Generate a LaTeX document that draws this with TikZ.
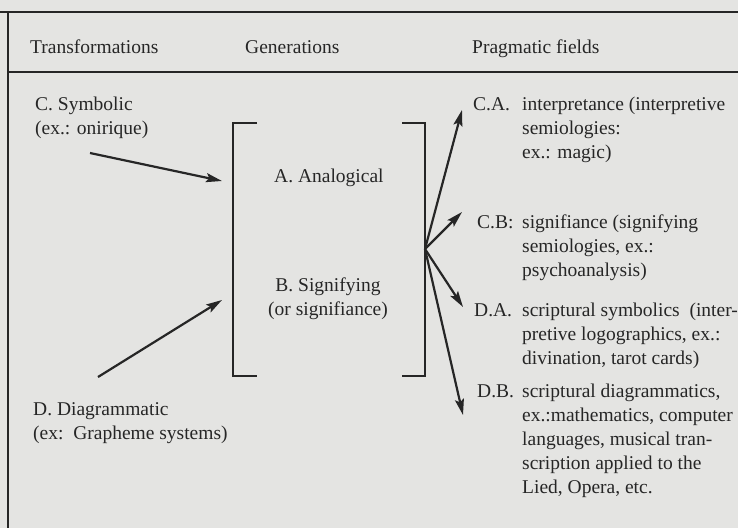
\documentclass[tikz,border=0pt]{standalone}
\usepackage{fontspec}
\setmainfont{Liberation Serif}
\usetikzlibrary{arrows.meta}
\definecolor{paper}{HTML}{E4E4E2}
\definecolor{ink}{HTML}{262626}
\tikzset{
  lbl/.style={anchor=base west, inner sep=0pt, text=ink, align=left,
    font=\fontsize{19.5}{24}\selectfont},
  rule/.style={draw=ink, line width=2.4pt},
  arr/.style={draw=ink, line width=2.2pt, -{Stealth[length=16pt,width=9pt,inset=3pt]}}
}
\begin{document}
\begin{tikzpicture}[x=1pt,y=-1pt]
\fill[paper] (0,0) rectangle (738,528);
\useasboundingbox (0,0) rectangle (738,528);
\draw [rule] (0,12) -- (738,12);
\draw [rule] (8,72) -- (738,72);
\draw [rule] (8,12) -- (8,528);
\node [lbl] (trans) at (30,53) {Transformations};
\node [lbl] (gener) at (245,53) {Generations};
\node [lbl] (prag) at (472,53) {Pragmatic fields};
\node [lbl] (sym) at (35,134) {C. Symbolic\\(ex.: onirique)};
\node [lbl] (diag) at (33,439) {D. Diagrammatic\\(ex:\ \ Grapheme systems)};
\node [lbl] (ana) at (274,182) {A. Analogical};
\node [lbl, align=center, anchor=base] (sig) at (328,315) {B. Signifying\\(or signifiance)};
\node [lbl] (ca) at (473,110) {C.A.};
\node [lbl] (catext) at (522,158) {interpretance (interpretive\\semiologies:\\ex.: magic)};
\node [lbl] (cb) at (477,228) {C.B:};
\node [lbl] (cbtext) at (522,276) {signifiance (signifying\\semiologies, ex.:\\psychoanalysis)};
\node [lbl] (da) at (474,316) {D.A.};
\node [lbl] (datext) at (522,364) {scriptural symbolics\ \ (inter-\\pretive logographics, ex.:\\divination, tarot cards)};
\node [lbl] (db) at (477,397) {D.B.};
\node [lbl] (dbtext) at (522,493) {scriptural diagrammatics,\\ex.:mathematics, computer\\languages, musical tran-\\scription applied to the\\Lied, Opera, etc.};
\draw [rule] (257,123) -- (233,123) -- (233,376) -- (257,376);
\draw [rule] (402,123) -- (425,123) -- (425,376) -- (402,376);
\coordinate (hub) at (425,249);
\coordinate (symfrom) at (90,153);
\coordinate (symto) at (222,181);
\coordinate (diagfrom) at (98,377);
\coordinate (diagto) at (222,300);
\coordinate (cato) at (462,110);
\coordinate (cbto) at (462,212);
\coordinate (dato) at (463,307);
\coordinate (dbto) at (463,415);
\draw [arr] (symfrom) -- (symto);
\draw [arr] (diagfrom) -- (diagto);
\draw [arr] (hub) -- (cato);
\draw [arr] (hub) -- (cbto);
\draw [arr] (hub) -- (dato);
\draw [arr] (hub) -- (dbto);
\end{tikzpicture}
\end{document}
